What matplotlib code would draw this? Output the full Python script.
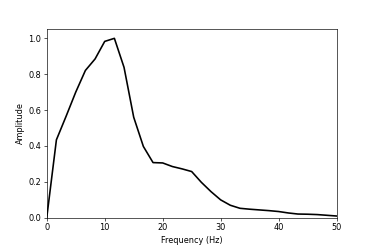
import matplotlib
matplotlib.use("Agg")
import matplotlib.pyplot as plt
import numpy as np

freq_step = 50 / 30
freqs = [i * freq_step for i in range(31)]
amplitude = [0.0, 0.434, 0.565, 0.70, 0.821, 0.885, 0.983, 1.0, 0.838, 0.56,
             0.397, 0.307, 0.305, 0.285, 0.272, 0.257, 0.197, 0.145, 0.099, 0.069,
             0.052, 0.047, 0.043, 0.039, 0.034, 0.026, 0.020, 0.019, 0.017, 0.013, 0.009]

dpi = 374 / 6.4
fig = plt.figure(figsize=(6.4, 249 / dpi), dpi=dpi)
ax = fig.add_axes([0.125, 0.126, 0.775, 0.756])
ax.plot(freqs, amplitude, color="black", linewidth=2)
ax.set_xlim(0, 50)
ax.set_ylim(0, 1.05)
ax.set_xlabel("Frequency (Hz)")
ax.set_ylabel("Amplitude")
fig.savefig("out.png", dpi=dpi)
